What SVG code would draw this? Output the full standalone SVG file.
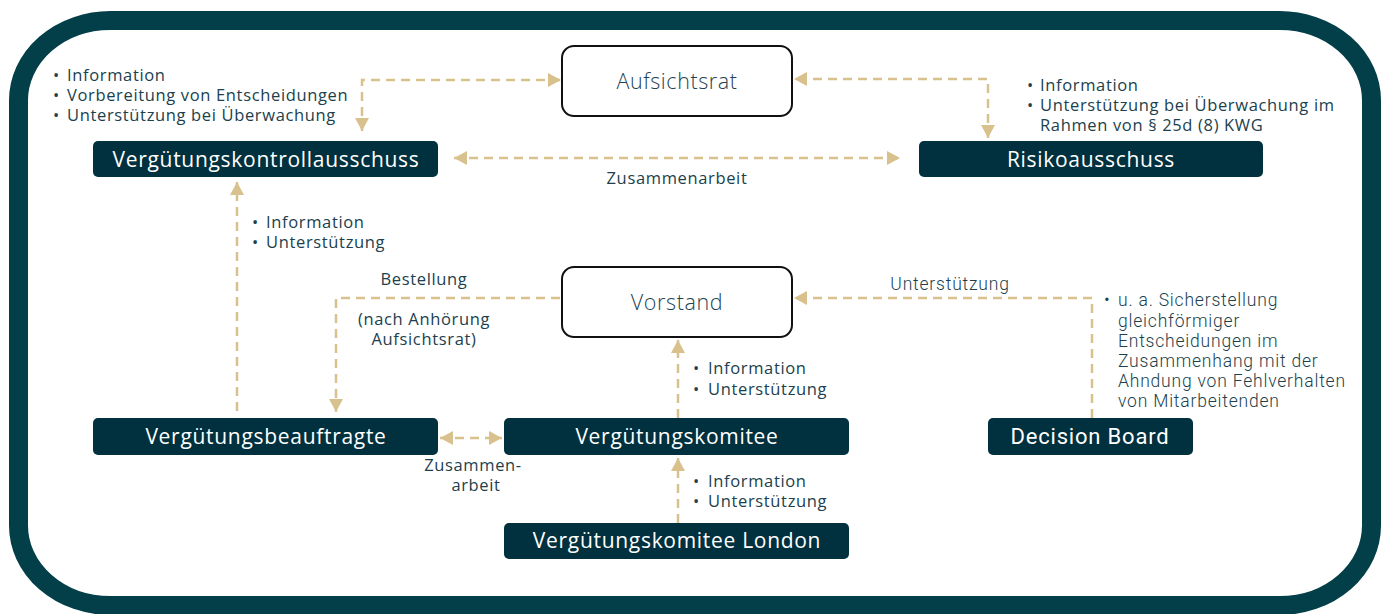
<svg xmlns="http://www.w3.org/2000/svg" width="1384" height="614" viewBox="0 0 1384 614">
<style>
.frame{fill:none;stroke:#023F48;stroke-width:19}
.dark{fill:#01303E}
.light{fill:#fff;stroke:#111;stroke-width:2}
.nl{font-family:"Open Sans",sans-serif;font-size:21px;fill:#fff;text-anchor:middle;letter-spacing:0.7px}
.wl{font-family:"Open Sans",sans-serif;font-size:21.5px;font-weight:300;fill:#1E4352;text-anchor:middle;letter-spacing:0.6px}
.t{font-family:"Open Sans",sans-serif;font-size:16.5px;fill:#203F4D;letter-spacing:0.65px}
.tc{text-anchor:middle}
.r{font-family:Roboto,sans-serif;font-size:17.5px;fill:#203F4D;font-weight:300;letter-spacing:0.8px}
.rl{font-family:Roboto,sans-serif;font-size:22px;fill:#fff;text-anchor:middle;letter-spacing:0.8px}
.c{fill:none;stroke:#D8C18C;stroke-width:2.5;stroke-dasharray:9 6}
</style>
<defs>
<marker id="a" markerUnits="userSpaceOnUse" markerWidth="14" markerHeight="14" viewBox="0 0 14 14" refX="13" refY="7" orient="auto-start-reverse">
<path d="M0,0 L13,7 L0,14 z" fill="#D8C18C"/>
</marker>
</defs>
<rect class="frame" x="18.5" y="20.5" width="1353" height="585" rx="92" ry="80"/>

<g id="connectors">
<path class="c" d="M362,131 V80 H561" marker-start="url(#a)" marker-end="url(#a)"/>
<path class="c" d="M988,138 V79 H794" marker-start="url(#a)" marker-end="url(#a)"/>
<path class="c" d="M454,158 H900" marker-start="url(#a)" marker-end="url(#a)"/>
<path class="c" d="M237,411 V182" marker-end="url(#a)"/>
<path class="c" d="M560,298 H336 V412" marker-end="url(#a)"/>
<path class="c" d="M440,438 H502" marker-start="url(#a)" marker-end="url(#a)"/>
<path class="c" d="M678,418 V340" marker-end="url(#a)"/>
<path class="c" d="M678,523 V458" marker-end="url(#a)"/>
<path class="c" d="M1092,418 V298 H794" marker-end="url(#a)"/>
</g>

<g id="aufsichtsrat">
<rect class="light" x="562" y="46" width="230" height="70" rx="12"/>
<text class="wl" x="677" y="89">Aufsichtsrat</text>
</g>
<g id="vorstand">
<rect class="light" x="562" y="267" width="230" height="70" rx="12"/>
<text class="wl" x="677" y="310">Vorstand</text>
</g>
<g id="vka">
<rect class="dark" x="93" y="141" width="345" height="36" rx="5"/>
<text class="nl" x="266" y="167">Vergütungskontrollausschuss</text>
</g>
<g id="risiko">
<rect class="dark" x="919" y="141" width="344" height="36" rx="5"/>
<text class="nl" x="1091" y="167">Risikoausschuss</text>
</g>
<g id="vb">
<rect class="dark" x="93" y="418" width="345" height="37" rx="5"/>
<text class="nl" x="266" y="444">Vergütungsbeauftragte</text>
</g>
<g id="vk">
<rect class="dark" x="504" y="418" width="345" height="37" rx="5"/>
<text class="nl" x="677" y="444">Vergütungskomitee</text>
</g>
<g id="vkl">
<rect class="dark" x="504" y="523" width="345" height="36" rx="5"/>
<text class="nl" x="677" y="548">Vergütungskomitee London</text>
</g>
<g id="db">
<rect class="dark" x="988" y="418" width="205" height="37" rx="5"/>
<text class="rl" x="1090" y="444">Decision Board</text>
</g>

<g id="labels">
<text class="t"><tspan x="53" y="80.5">•</tspan><tspan x="67">Information</tspan><tspan x="53" y="100.5">•</tspan><tspan x="67">Vorbereitung von Entscheidungen</tspan><tspan x="53" y="120.5">•</tspan><tspan x="67">Unterstützung bei Überwachung</tspan></text>

<text class="t"><tspan x="1027" y="90.5">•</tspan><tspan x="1040">Information</tspan><tspan x="1027" y="111">•</tspan><tspan x="1040">Unterstützung bei Überwachung im</tspan><tspan x="1040" y="131">Rahmen von § 25d (8) KWG</tspan></text>

<text class="t tc" x="677" y="184">Zusammenarbeit</text>

<text class="t"><tspan x="252" y="228">•</tspan><tspan x="266">Information</tspan><tspan x="252" y="248">•</tspan><tspan x="266">Unterstützung</tspan></text>

<text class="t tc" x="424" y="285">Bestellung</text>
<text class="t tc"><tspan x="424" y="325">(nach Anhörung</tspan><tspan x="424" y="345">Aufsichtsrat)</tspan></text>

<text class="t tc"><tspan x="473" y="471">Zusammen-</tspan><tspan x="476" y="491">arbeit</tspan></text>

<text class="t"><tspan x="693" y="374">•</tspan><tspan x="708">Information</tspan><tspan x="693" y="395">•</tspan><tspan x="708">Unterstützung</tspan></text>
<text class="t"><tspan x="693" y="487">•</tspan><tspan x="708">Information</tspan><tspan x="693" y="507">•</tspan><tspan x="708">Unterstützung</tspan></text>

<text class="r" x="950" y="290" text-anchor="middle">Unterstützung</text>
<text class="r"><tspan x="1104" y="306">•</tspan><tspan x="1118">u. a. Sicherstellung</tspan><tspan x="1118" y="327">gleichförmiger</tspan><tspan x="1118" y="347">Entscheidungen im</tspan><tspan x="1118" y="367">Zusammenhang mit der</tspan><tspan x="1118" y="387">Ahndung von Fehlverhalten</tspan><tspan x="1118" y="407">von Mitarbeitenden</tspan></text>
</g>
</svg>
